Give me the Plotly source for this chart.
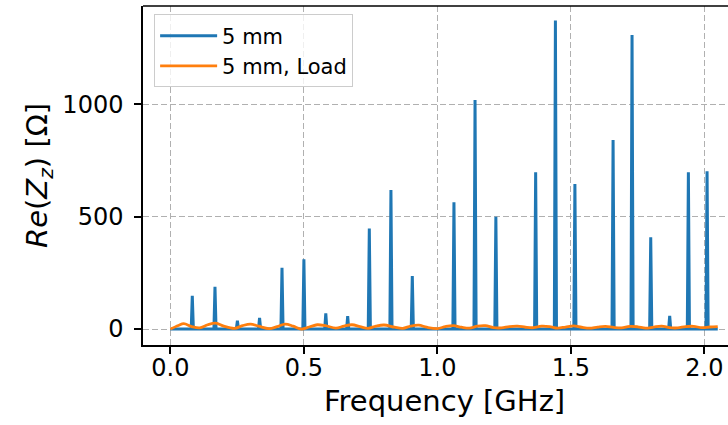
import plotly.graph_objects as go

# ---- data ----
peak_freq_ghz = [0.082, 0.167, 0.251, 0.334, 0.418, 0.500, 0.582, 0.664, 0.745, 0.826,
                 0.906, 1.062, 1.141, 1.219, 1.368, 1.442, 1.515, 1.658, 1.729, 1.799,
                 1.870, 1.940, 2.010]
peak_re_z = [148, 188, 37, 50, 272, 310, 70, 58, 447, 618,
             236, 564, 1019, 500, 697, 1372, 645, 841, 1308, 408,
             59, 697, 702]
f_start, f_stop = 0.0, 2.05

load_freq_ghz = [0.00, 0.03, 0.05, 0.08, 0.11, 0.14, 0.17, 0.20, 0.24, 0.27,
                 0.30, 0.33, 0.37, 0.40, 0.43, 0.46, 0.49, 0.52, 0.55, 0.58,
                 0.62, 0.65, 0.68, 0.71, 0.74, 0.77, 0.80, 0.84, 0.87, 0.90,
                 0.93, 0.96, 1.00, 1.03, 1.06, 1.09, 1.12, 1.15, 1.18, 1.21,
                 1.24, 1.27, 1.30, 1.33, 1.36, 1.39, 1.42, 1.45, 1.48, 1.51,
                 1.54, 1.57, 1.60, 1.63, 1.66, 1.69, 1.72, 1.75, 1.78, 1.81,
                 1.84, 1.87, 1.90, 1.93, 1.96, 1.99, 2.02, 2.05]
load_re_z = [0, 16, 24, 11, 5, 19, 26, 13, 3, 15,
             22, 13, 2, 11, 22, 13, 0, 9, 19, 15,
             4, 13, 19, 11, 3, 13, 18, 8, 3, 13,
             17, 8, 2, 11, 15, 8, 4, 13, 15, 6,
             5, 11, 13, 8, 6, 13, 11, 4, 9, 14,
             8, 4, 9, 12, 7, 5, 12, 10, 4, 9,
             13, 6, 5, 11, 12, 6, 9, 11]

x_ticks = [0.0, 0.5, 1.0, 1.5, 2.0]
y_ticks = [0, 500, 1000]

# ---- build the blue resonance trace from the peak table ----
hw = 0.004
bx, by = [f_start], [0]
for f, h in zip(peak_freq_ghz, peak_re_z):
    bx += [f - hw, f, f + hw]
    by += [0, h, 0]
bx.append(f_stop)
by.append(0)

BLUE = "#1f77b4"
ORANGE = "#ff7f0e"

fig = go.Figure()
fig.add_trace(go.Scatter(x=bx, y=by, mode="lines", name="5 mm",
                         line=dict(color=BLUE, width=3)))
fig.add_trace(go.Scatter(x=load_freq_ghz, y=load_re_z, mode="lines", name="5 mm, Load",
                         line=dict(color=ORANGE, width=2.8, shape="spline", smoothing=1)))

FONT = "DejaVu Sans"
fig.update_layout(
    width=728, height=425, autosize=False,
    margin=dict(l=143, r=0, t=6, b=80),
    paper_bgcolor="white", plot_bgcolor="white",
    font=dict(family=FONT, color="black", size=24),
    showlegend=True,
    legend=dict(x=0.019, y=0.975, xanchor="left", yanchor="top",
                bgcolor="rgba(255,255,255,0.8)", bordercolor="#cccccc", borderwidth=1,
                font=dict(family=FONT, size=21, color="black"),
                itemwidth=57),
    xaxis=dict(range=[-0.1026, 2.0884], tickvals=x_ticks, tickformat=".1f",
               showgrid=True, gridcolor="#b0b0b0", gridwidth=1, griddash="6px,3px",
               zeroline=False, showline=True, linecolor="black", linewidth=1.5,
               ticks="outside", ticklen=7, tickwidth=1.5, tickcolor="black",
               tickfont=dict(family=FONT, size=24), ticklabelstandoff=-7),
    yaxis=dict(range=[-71, 1437], tickvals=y_ticks,
               showgrid=True, gridcolor="#b0b0b0", gridwidth=1, griddash="6px,3px",
               zeroline=False, showline=True, linecolor="black", linewidth=1.5,
               ticks="outside", ticklen=7, tickwidth=1.5, tickcolor="black",
               tickfont=dict(family=FONT, size=24), ticklabelstandoff=6),
    shapes=[dict(type="line", xref="paper", yref="paper", x0=0, x1=1, y0=1, y1=1,
                 line=dict(color="black", width=1.5))],
    annotations=[
        dict(text="Frequency [GHz]", xref="paper", yref="paper",
             x=(444.5 - 143) / 585, y=-(401 - 345) / 339, xanchor="center", yanchor="middle",
             showarrow=False, font=dict(family=FONT, size=29)),
        dict(text="<i>Re</i>(<i>Z<sub>z</sub></i>) [Ω]", xref="paper", yref="paper",
             x=-(143 - 38.5) / 585, y=0.5, xanchor="center", yanchor="middle",
             textangle=-90, showarrow=False, font=dict(family=FONT, size=29)),
    ],
)

fig.write_html("out.html", config={"displayModeBar": False},
               post_script="document.body.style.margin='0';document.body.style.overflow='hidden';")
